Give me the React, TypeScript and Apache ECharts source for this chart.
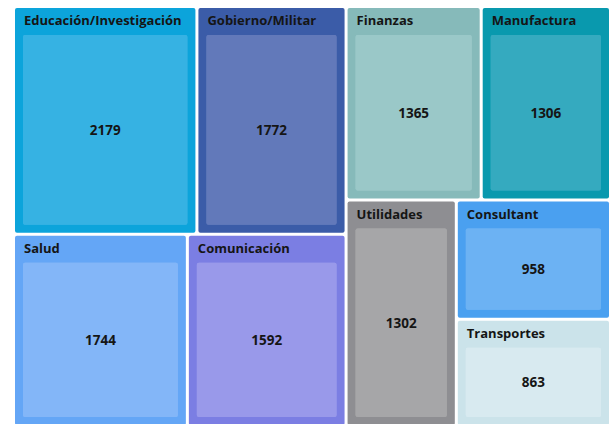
import React, { useEffect, useRef } from "react";
import * as echarts from "echarts";

const names = [
  "Educación/Investigación",
  "Gobierno/Militar",
  "Salud",
  "Comunicación",
  "Finanzas",
  "Manufactura",
  "Utilidades",
  "Consultant",
  "Transportes",
];
const values = [2179, 1772, 1744, 1592, 1365, 1306, 1302, 958, 863];
const outerColors = [
  "#0CA4DB",
  "#3B5CA8",
  "#64A6F6",
  "#7B7EE3",
  "#86BABA",
  "#0999AE",
  "#8E8E92",
  "#4AA0F0",
  "#CBE3EA",
];
const innerColors = [
  "#36B2E3",
  "#6279BA",
  "#83B6F8",
  "#9999EA",
  "#9AC8C8",
  "#35AABF",
  "#A6A6A8",
  "#6CB2F3",
  "#D8EAF0",
];

const FONT = "'Open Sans', Lato, sans-serif";

function categoryNode(i: number): any {
  return {
    name: names[i],
    value: values[i],
    itemStyle: {
      color: outerColors[i],
      borderColor: outerColors[i],
      borderWidth: 8,
      gapWidth: 0,
      borderRadius: 2,
    },
    upperLabel: {
      show: true,
      height: 27,
      position: [1, "45%"],
      verticalAlign: "middle",
      color: "#151515",
      fontWeight: "bold",
      fontSize: 13,
      fontFamily: FONT,
    },
    children: [
      {
        name: names[i],
        value: values[i],
        itemStyle: {
          color: innerColors[i],
          borderColor: innerColors[i],
          borderWidth: 0,
          borderRadius: 2,
        },
        label: {
          show: true,
          position: "inside",
          formatter: "{c}",
          color: "#151515",
          fontWeight: "bold",
          fontSize: 13.5,
          fontFamily: FONT,
        },
      },
    ],
  };
}

// binary partition (split where cumulative sum is closest to half)
function build(idxs: number[]): any {
  if (idxs.length === 1) return categoryNode(idxs[0]);
  const total = idxs.reduce((s, i) => s + values[i], 0);
  let best = 1;
  let bestDiff = Infinity;
  let cum = 0;
  for (let k = 1; k < idxs.length; k++) {
    cum += values[idxs[k - 1]];
    const d = Math.abs(cum - total / 2);
    if (d < bestDiff) {
      bestDiff = d;
      best = k;
    }
  }
  return {
    name: "",
    value: total,
    itemStyle: { borderWidth: 0, gapWidth: 3, borderColor: "#ffffff", color: "#ffffff" },
    upperLabel: { show: false },
    label: { show: false },
    children: [build(idxs.slice(0, best)), build(idxs.slice(best))],
  };
}

export default function App() {
  const ref = useRef<HTMLDivElement>(null);
  useEffect(() => {
    if (!ref.current) return;
    const chart = echarts.init(ref.current, undefined, { renderer: "svg" });
    const root = build(names.map((_, i) => i));
    chart.setOption({
      animation: false,
      backgroundColor: "#ffffff",
      textStyle: { fontFamily: FONT },
      series: [
        {
          type: "treemap",
          left: 15,
          top: 8,
          width: 594,
          height: 417,
          sort: false,
          roam: false,
          nodeClick: false,
          breadcrumb: { show: false },
          squareRatio: 1,
          itemStyle: { borderWidth: 0, gapWidth: 3, borderColor: "#ffffff" },
          emphasis: { disabled: true },
          data: root.children,
        },
      ],
    });
    return () => chart.dispose();
  }, []);
  return (
    <div
      ref={ref}
      style={{ position: "absolute", left: 0, top: 0, width: 615, height: 424 }}
    />
  );
}
